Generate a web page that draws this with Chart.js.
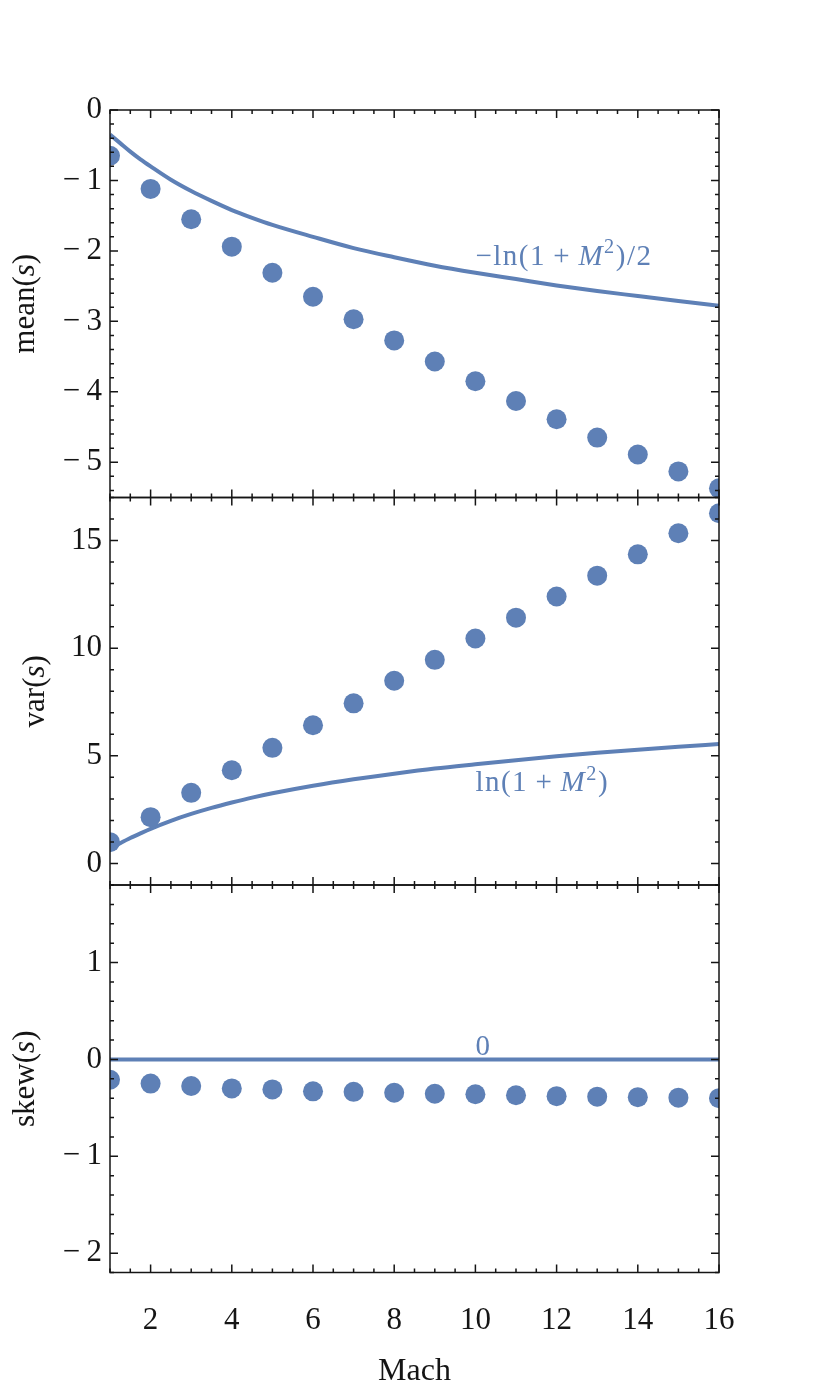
<!DOCTYPE html>
<html>
<head>
<meta charset="utf-8">
<title>Moments of s versus Mach number</title>
<script src="https://cdn.jsdelivr.net/npm/chart.js@4.4.1/dist/chart.umd.min.js"></script>
<style>
  html, body { margin: 0; padding: 0; background: #fff; }
  canvas { display: block; }
</style>
</head>
<body>
<canvas id="moments" width="830" height="1384"></canvas>
<script>
// values
const mach = [1, 2, 3, 4, 5, 6, 7, 8, 9, 10, 11, 12, 13, 14, 15, 16];
const meanS = [-0.65, -1.12, -1.55, -1.94, -2.31, -2.65, -2.97, -3.27, -3.57, -3.85, -4.13, -4.39, -4.65, -4.89, -5.13, -5.37];
const varS = [0.99, 2.15, 3.28, 4.33, 5.37, 6.42, 7.44, 8.49, 9.46, 10.45, 11.42, 12.40, 13.37, 14.36, 15.34, 16.27];
const skewS = [-0.21, -0.25, -0.275, -0.30, -0.31, -0.33, -0.335, -0.345, -0.355, -0.36, -0.37, -0.38, -0.385, -0.39, -0.395, -0.40];

// the drawn reference curves
const curveMach = [1, 1.25, 1.5, 1.75, 2, 2.5, 3, 3.5, 4, 4.5, 5, 6, 7, 8, 9, 10, 11, 12, 13, 14, 15, 16];
const meanCurve = [-0.35, -0.47, -0.59, -0.70, -0.80, -0.99, -1.15, -1.29, -1.42, -1.53, -1.63, -1.80, -1.96, -2.09, -2.21, -2.31, -2.40, -2.49, -2.57, -2.64, -2.71, -2.78];
const varCurve = [0.69, 0.94, 1.18, 1.40, 1.61, 1.98, 2.30, 2.58, 2.83, 3.06, 3.26, 3.61, 3.91, 4.17, 4.41, 4.61, 4.80, 4.98, 5.14, 5.28, 5.42, 5.55];
const zeroMach = [1, 16];
const zeroLine = [0, 0];

const xTicks = [2, 4, 6, 8, 10, 12, 14, 16];
const meanTicks = [0, -1, -2, -3, -4, -5];
const varTicks = [0, 5, 10, 15];
const skewTicks = [-2, -1, 0, 1];

const BLUE = '#5E80B6';
const INK = '#151515';
const FONT = '"Liberation Serif", "DejaVu Serif", serif';

const panels = [
  { id: 'yMean', ticks: meanTicks, minor: 0.2, title: [['mean('], ['s', 'i'], [')']], titleBase: 34 },
  { id: 'yVar', ticks: varTicks, minor: 1, title: [['var('], ['s', 'i'], [')']], titleBase: 44 },
  { id: 'ySkew', ticks: skewTicks, minor: 0.2, title: [['skew('], ['s', 'i'], [')']], titleBase: 34 }
];

const curveLabels = [
  { axis: 'yMean', x: 10, y: -2.2, parts: [['−ln(1'], ['\u2009+\u2009'], ['M', 'i'], ['2', 'sup'], [')/2']] },
  { axis: 'yVar', x: 10, y: 3.35, parts: [['ln(1'], ['\u2009+\u2009'], ['M', 'i'], ['2', 'sup'], [')']] },
  { axis: 'ySkew', x: 10, y: 0.05, parts: [['0']] }
];

function points(xs, ys) {
  return xs.map((x, i) => ({ x, y: ys[i] }));
}

function fmt(v) {
  return v < 0 ? '−\u2009' + Math.abs(v) : String(v);
}

function tickRun(min, max, step) {
  const out = [];
  for (let k = Math.ceil(min / step - 1e-6); k * step <= max + 1e-6; k++) {
    out.push(+(k * step).toFixed(6));
  }
  return out;
}

function partFont(style, size) {
  const sz = style === 'sup' ? size * 0.7 : size;
  return (style === 'i' ? 'italic ' : '') + sz + 'px ' + FONT;
}

function richWidth(ctx, parts, size) {
  let w = 0;
  parts.forEach(([text, style]) => {
    ctx.font = partFont(style, size);
    w += ctx.measureText(text).width;
  });
  return w;
}

function drawRich(ctx, parts, x, y, size, color) {
  let cx = x;
  ctx.fillStyle = color;
  ctx.textBaseline = 'alphabetic';
  ctx.textAlign = 'left';
  parts.forEach(([text, style]) => {
    ctx.font = partFont(style, size);
    ctx.fillText(text, cx, style === 'sup' ? y - size * 0.4 : y);
    cx += ctx.measureText(text).width;
  });
}

const dotStyle = {
  showLine: false, pointRadius: 10, pointHoverRadius: 10,
  pointBorderWidth: 0, backgroundColor: BLUE, borderColor: BLUE
};
const lineStyle = {
  showLine: true, pointRadius: 0, borderWidth: 4, borderColor: BLUE,
  cubicInterpolationMode: 'monotone'
};

function yAxis(ticks, min, max, order) {
  return {
    type: 'linear', position: 'left', stack: 'panels', stackWeight: 1, weight: order,
    min, max,
    grid: { display: false, drawTicks: false }, border: { display: false },
    afterBuildTicks: s => { s.ticks = ticks.map(v => ({ value: v })); },
    afterFit: s => { s.width = 110; },
    ticks: { padding: 8, color: INK, font: { family: FONT, size: 31 }, callback: v => fmt(v) }
  };
}

const framePlugin = {
  id: 'frame',
  afterDraw(chart) {
    const { ctx, chartArea } = chart;
    const { left, right } = chartArea;
    const xs = chart.scales.x;
    ctx.save();
    ctx.strokeStyle = INK;
    ctx.lineWidth = 1.5;

    panels.forEach(p => {
      const s = chart.scales[p.id];
      const top = s.top, bottom = s.bottom;
      ctx.strokeRect(left, top, right - left, bottom - top);
      ctx.beginPath();
      tickRun(s.min, s.max, p.minor).forEach(v => {
        const len = p.ticks.some(t => Math.abs(t - v) < 1e-6) ? 8 : 4;
        const y = s.getPixelForValue(v);
        ctx.moveTo(left, y); ctx.lineTo(left + len, y);
        ctx.moveTo(right, y); ctx.lineTo(right - len, y);
      });
      tickRun(xs.min, xs.max, 0.5).forEach(v => {
        const len = xTicks.includes(v) ? 8 : 4;
        const x = xs.getPixelForValue(v);
        ctx.moveTo(x, top); ctx.lineTo(x, top + len);
        ctx.moveTo(x, bottom); ctx.lineTo(x, bottom - len);
      });
      ctx.stroke();

      // rotated axis title
      const size = 31;
      const w = richWidth(ctx, p.title, size);
      ctx.save();
      ctx.translate(p.titleBase, (top + bottom) / 2);
      ctx.rotate(-Math.PI / 2);
      drawRich(ctx, p.title, -w / 2, 0, size, INK);
      ctx.restore();
    });

    // labels next to the curves
    ctx.letterSpacing = '1.5px';
    curveLabels.forEach(l => {
      const s = chart.scales[l.axis];
      drawRich(ctx, l.parts, xs.getPixelForValue(l.x), s.getPixelForValue(l.y), 29, BLUE);
    });
    ctx.restore();
  }
};

new Chart(document.getElementById('moments'), {
  type: 'scatter',
  data: {
    datasets: [
      { label: 'mean(s)', yAxisID: 'yMean', data: points(mach, meanS), ...dotStyle },
      { label: 'var(s)', yAxisID: 'yVar', data: points(mach, varS), ...dotStyle },
      { label: 'skew(s)', yAxisID: 'ySkew', data: points(mach, skewS), ...dotStyle },
      { label: '−ln(1+M²)/2', yAxisID: 'yMean', data: points(curveMach, meanCurve), ...lineStyle },
      { label: 'ln(1+M²)', yAxisID: 'yVar', data: points(curveMach, varCurve), ...lineStyle },
      { label: '0', yAxisID: 'ySkew', data: points(zeroMach, zeroLine), ...lineStyle }
    ]
  },
  options: {
    responsive: false,
    animation: false,
    devicePixelRatio: 1,
    layout: { padding: { top: 110, right: 111, bottom: 0, left: 0 } },
    plugins: { legend: { display: false }, tooltip: { enabled: false } },
    scales: {
      x: {
        type: 'linear', position: 'bottom', min: 1, max: 16,
        grid: { display: false, drawTicks: false }, border: { display: false },
        afterBuildTicks: s => { s.ticks = xTicks.map(v => ({ value: v })); },
        afterFit: s => { s.height = 111.5; },
        ticks: { padding: 33, autoSkip: false, maxRotation: 0, color: INK, font: { family: FONT, size: 31, lineHeight: 1 } },
        title: { display: true, text: 'Mach', color: INK, padding: 0, font: { family: FONT, size: 32, lineHeight: 0.8 } }
      },
      yMean: yAxis(meanTicks, -5.5, 0, 3),
      yVar: yAxis(varTicks, -1, 17, 2),
      ySkew: yAxis(skewTicks, -2.2, 1.8, 1)
    }
  },
  plugins: [framePlugin]
});
</script>
</body>
</html>
